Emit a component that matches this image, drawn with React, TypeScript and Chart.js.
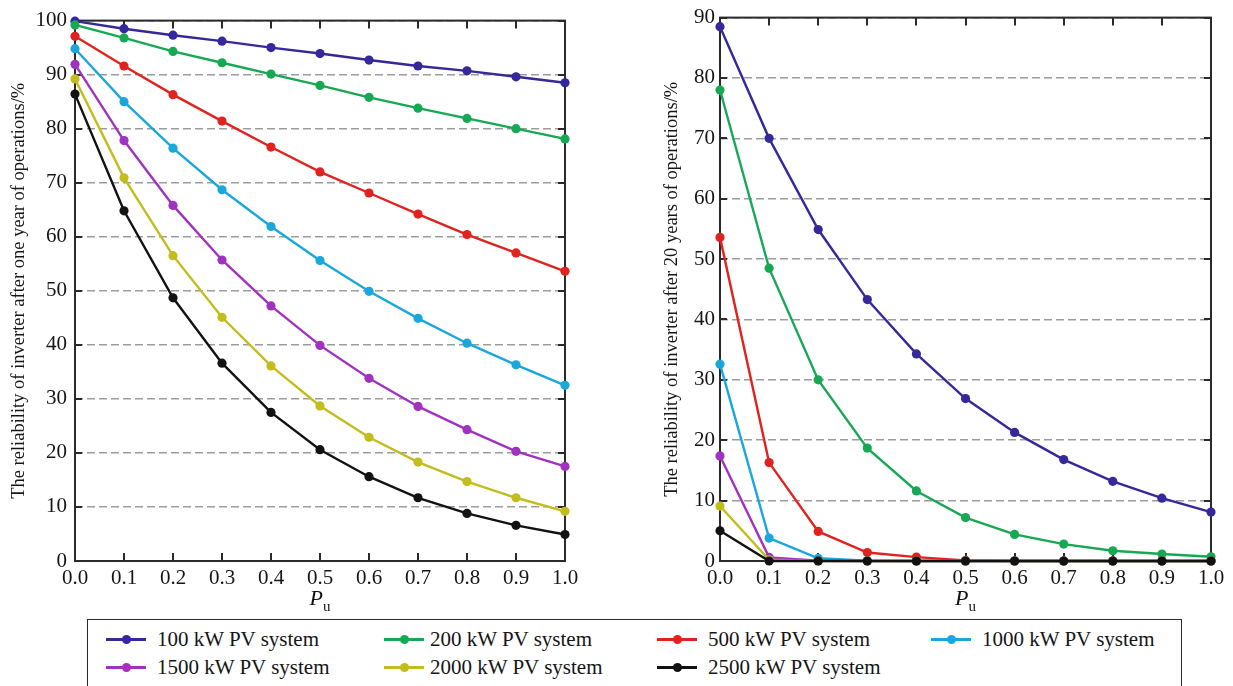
import React, { useEffect, useRef } from "react";
import { Chart, registerables } from "chart.js";

Chart.register(...registerables);

const FONT = "'Liberation Serif', 'Times New Roman', serif";

// ---------- data ----------
const puValues = [0, 0.1, 0.2, 0.3, 0.4, 0.5, 0.6, 0.7, 0.8, 0.9, 1.0];

const seriesNames = [
  "100 kW PV system",
  "200 kW PV system",
  "500 kW PV system",
  "1000 kW PV system",
  "1500 kW PV system",
  "2000 kW PV system",
  "2500 kW PV system",
];

const seriesColors = ["#34289a", "#17a853", "#e0231e", "#1aa7dc", "#a132c0", "#c2bd1b", "#121212"];

// Reliability after one year of operation (%)
const oneYear100 = [99.9, 98.5, 97.3, 96.2, 95.0, 93.9, 92.7, 91.6, 90.7, 89.6, 88.5];
const oneYear200 = [99.2, 96.8, 94.3, 92.2, 90.1, 88.0, 85.8, 83.8, 81.9, 80.0, 78.1];
const oneYear500 = [97.1, 91.6, 86.3, 81.4, 76.6, 72.0, 68.1, 64.2, 60.4, 57.0, 53.6];
const oneYear1000 = [94.8, 85.0, 76.4, 68.7, 61.9, 55.6, 49.9, 44.9, 40.3, 36.3, 32.5];
const oneYear1500 = [91.9, 77.8, 65.8, 55.7, 47.2, 39.9, 33.8, 28.6, 24.3, 20.3, 17.5];
const oneYear2000 = [89.2, 70.9, 56.5, 45.1, 36.1, 28.7, 22.9, 18.3, 14.7, 11.7, 9.2];
const oneYear2500 = [86.4, 64.8, 48.7, 36.6, 27.5, 20.6, 15.6, 11.7, 8.8, 6.6, 4.9];

// Reliability after 20 years of operation (%)
const twentyYears100 = [88.5, 70.0, 54.9, 43.3, 34.3, 26.9, 21.3, 16.8, 13.2, 10.4, 8.1];
const twentyYears200 = [78.0, 48.5, 30.0, 18.7, 11.6, 7.2, 4.4, 2.8, 1.7, 1.15, 0.7];
const twentyYears500 = [53.6, 16.3, 4.9, 1.4, 0.65, 0.1, 0, 0, 0, 0, 0];
const twentyYears1000 = [32.6, 3.8, 0.45, 0.05, 0, 0, 0, 0, 0, 0, 0];
const twentyYears1500 = [17.4, 0.6, 0.05, 0, 0, 0, 0, 0, 0, 0, 0];
const twentyYears2000 = [9.1, 0.2, 0, 0, 0, 0, 0, 0, 0, 0, 0];
const twentyYears2500 = [5.0, 0, 0, 0, 0, 0, 0, 0, 0, 0, 0];

const oneYearSeries = [oneYear100, oneYear200, oneYear500, oneYear1000, oneYear1500, oneYear2000, oneYear2500];
const twentyYearSeries = [
  twentyYears100,
  twentyYears200,
  twentyYears500,
  twentyYears1000,
  twentyYears1500,
  twentyYears2000,
  twentyYears2500,
];

const xTickStep = 0.1;
const yTickStep = 10;

// ---------- chart helpers ----------
type Geo = {
  W: number;
  H: number;
  left: number;
  right: number;
  top: number;
  bottom: number;
  titlePad: number;
  yTickPad: number;
};

const framePlugin = {
  id: "frameTicks",
  beforeDatasetsDraw(chart: any) {
    const { ctx, chartArea: a, scales } = chart;
    const x = scales.x;
    const y = scales.y;
    ctx.save();
    ctx.strokeStyle = "#2a2a2a";
    ctx.lineWidth = 2;
    ctx.beginPath();
    x.ticks.forEach((t: any) => {
      const px = Math.round(x.getPixelForValue(t.value));
      ctx.moveTo(px, a.bottom);
      ctx.lineTo(px, a.bottom - 8);
      ctx.moveTo(px, a.top);
      ctx.lineTo(px, a.top + 8);
    });
    y.ticks.forEach((t: any) => {
      const py = Math.round(y.getPixelForValue(t.value));
      ctx.moveTo(a.left, py);
      ctx.lineTo(a.left + 7, py);
      ctx.moveTo(a.right, py);
      ctx.lineTo(a.right - 7, py);
    });
    ctx.stroke();
    ctx.strokeRect(a.left, a.top, a.right - a.left, a.bottom - a.top);
    ctx.restore();
  },
  afterDraw(chart: any) {
    const { ctx, chartArea: a } = chart;
    ctx.save();
    ctx.fillStyle = "#111";
    ctx.textBaseline = "alphabetic";
    ctx.font = `italic 22px ${FONT}`;
    const wP = ctx.measureText("P").width;
    ctx.font = `15px ${FONT}`;
    const wu = ctx.measureText("u").width;
    const cx = (a.left + a.right) / 2;
    const sx = cx - (wP + wu) / 2;
    ctx.font = `italic 22px ${FONT}`;
    ctx.fillText("P", sx, 605);
    ctx.font = `15px ${FONT}`;
    ctx.fillText("u", sx + wP, 611);
    ctx.restore();
  },
};

function makeChart(canvas: HTMLCanvasElement, series: number[][], yMax: number, yTitle: string, g: Geo) {
  const datasets = series.map((vals, i) => ({
    label: seriesNames[i],
    data: puValues.map((p, j) => ({ x: p, y: vals[j] })),
    borderColor: seriesColors[i],
    backgroundColor: seriesColors[i],
    pointBackgroundColor: seriesColors[i],
    pointBorderWidth: 0,
    pointRadius: 4.6,
    borderWidth: 2.4,
    tension: 0,
    clip: false as any,
    order: series.length - i,
  }));
  return new Chart(canvas, {
    type: "line",
    data: { datasets },
    plugins: [framePlugin],
    options: {
      animation: false,
      responsive: false,
      events: [],
      font: { family: FONT },
      layout: { padding: { left: 0, top: g.top, right: g.W - g.right, bottom: 0 } },
      plugins: { legend: { display: false }, tooltip: { enabled: false }, title: { display: false } },
      scales: {
        x: {
          type: "linear",
          min: 0,
          max: 1,
          afterFit: (s: any) => {
            s.height = g.H - g.bottom;
          },
          grid: { display: false, drawTicks: false },
          border: { display: false },
          ticks: {
            stepSize: xTickStep,
            padding: 5,
            color: "#151515",
            font: { family: FONT, size: 21 },
            maxRotation: 0,
            autoSkip: false,
            callback: (v: any) => Number(v).toFixed(1),
          },
        },
        y: {
          type: "linear",
          min: 0,
          max: yMax,
          afterFit: (s: any) => {
            s.width = g.left;
          },
          grid: { color: "#9c9c9c", lineWidth: 1.5, drawTicks: false },
          border: { display: false, dash: [8, 4] },
          ticks: {
            stepSize: yTickStep,
            padding: g.yTickPad,
            color: "#151515",
            font: { family: FONT, size: 21 },
            autoSkip: false,
          },
          title: {
            display: true,
            text: yTitle,
            color: "#151515",
            font: { family: FONT, size: 18.5 },
            padding: { top: g.titlePad, bottom: 0 },
          },
        },
      },
    } as any,
  });
}

const leftGeo: Geo = { W: 620, H: 615, left: 75, right: 565, top: 15, bottom: 561, titlePad: 8, yTickPad: 8 };
const rightGeo: Geo = { W: 613, H: 615, left: 100, right: 591, top: 15, bottom: 561, titlePad: 41, yTickPad: 5 };

const legendLineX = [106, 384, 657, 931];
const legendTextX = [157, 430, 708, 982];
const legendRowY = [639, 667];

export default function App() {
  const leftRef = useRef<HTMLCanvasElement>(null);
  const rightRef = useRef<HTMLCanvasElement>(null);

  useEffect(() => {
    Chart.defaults.font.family = FONT;
    const c1 = makeChart(
      leftRef.current!,
      oneYearSeries,
      100,
      "The reliability of inverter after one year of operations/%",
      leftGeo
    );
    const c2 = makeChart(
      rightRef.current!,
      twentyYearSeries,
      90,
      "The reliability of inverter after 20 years of operations/%",
      rightGeo
    );
    return () => {
      c1.destroy();
      c2.destroy();
    };
  }, []);

  return (
    <div
      style={{
        position: "absolute",
        left: 0,
        top: 0,
        width: 1233,
        height: 686,
        overflow: "hidden",
        background: "#fff",
        fontFamily: FONT,
      }}
    >
      <canvas
        ref={leftRef}
        width={leftGeo.W}
        height={leftGeo.H}
        style={{ position: "absolute", left: 0, top: 0, width: leftGeo.W, height: leftGeo.H }}
      />
      <canvas
        ref={rightRef}
        width={rightGeo.W}
        height={rightGeo.H}
        style={{ position: "absolute", left: 620, top: 0, width: rightGeo.W, height: rightGeo.H }}
      />
      <div
        style={{
          position: "absolute",
          left: 87,
          top: 619,
          width: 1182 - 87,
          height: 120,
          border: "1.5px solid #2a2a2a",
          boxSizing: "border-box",
        }}
      />
      {seriesNames.map((name, i) => {
        const col = i % 4;
        const row = Math.floor(i / 4);
        const cy = legendRowY[row];
        const lx = legendLineX[col];
        return (
          <React.Fragment key={name}>
            <div
              style={{
                position: "absolute",
                left: lx,
                top: cy - 1.5,
                width: 40,
                height: 3,
                background: seriesColors[i],
              }}
            />
            <div
              style={{
                position: "absolute",
                left: lx + 20 - 4.5,
                top: cy - 4.5,
                width: 9,
                height: 9,
                borderRadius: "50%",
                background: seriesColors[i],
              }}
            />
            <div
              style={{
                position: "absolute",
                left: legendTextX[col],
                top: cy - 14,
                height: 28,
                lineHeight: "28px",
                fontSize: 21,
                fontFamily: FONT,
                color: "#151515",
                whiteSpace: "nowrap",
              }}
            >
              {name}
            </div>
          </React.Fragment>
        );
      })}
    </div>
  );
}
